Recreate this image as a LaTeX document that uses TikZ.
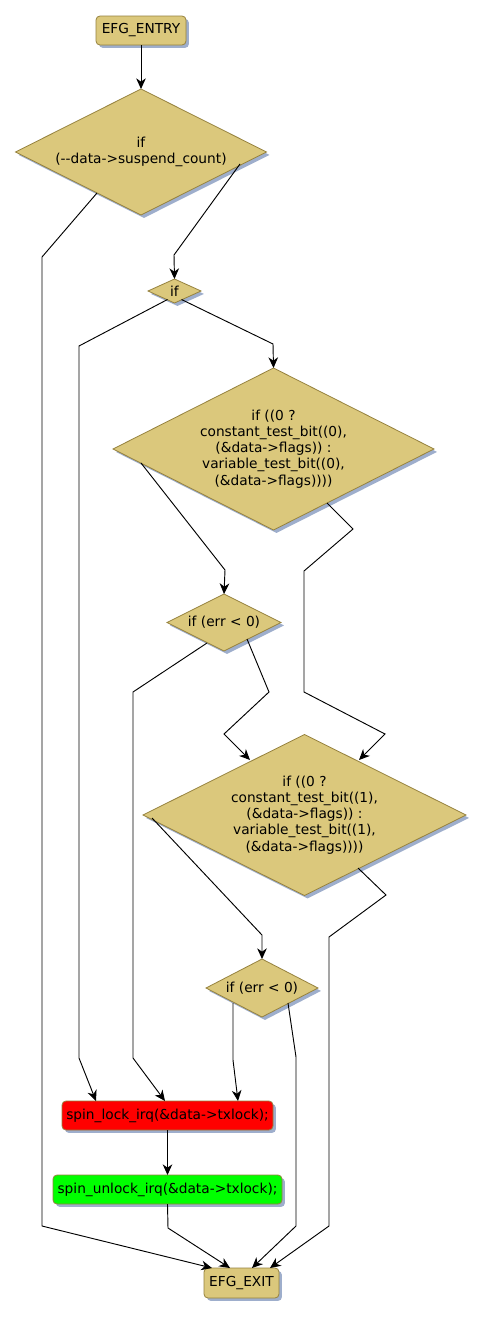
\documentclass[tikz,border=0pt]{standalone}
\usepackage{fontspec}
\setmainfont{DejaVu Sans}
\usetikzlibrary{shapes.geometric,arrows.meta,shadows,calc}
\definecolor{khaki}{RGB}{219,200,124}
\definecolor{khakiline}{RGB}{150,130,62}
\definecolor{shadowc}{RGB}{158,174,204}
\definecolor{redfill}{RGB}{255,0,0}
\definecolor{greenfill}{RGB}{0,255,0}
\tikzset{
  basefont/.style={font=\fontsize{10.3pt}{12.15pt}\selectfont},
  shad/.style={drop shadow={shadow xshift=2.2pt,shadow yshift=-2.2pt,fill=shadowc,opacity=1}},
  cond/.style={basefont,shape=diamond,draw=khakiline,fill=khaki,line width=0.6pt,inner sep=0pt,outer sep=0pt,aspect=2,align=center,shad},
  actbox/.style={basefont,shape=rectangle,rounded corners=3pt,draw=khakiline,line width=0.6pt,inner sep=0pt,outer sep=0pt,align=center,shad},
  conn/.style={draw,line width=0.7pt,-{Stealth[length=8pt,width=7.2pt,inset=2.5pt]}},
}
\begin{document}
\begin{tikzpicture}[x=0.75pt,y=-0.75pt]
\useasboundingbox[fill=white] (0,0) rectangle (484,1317);

\node[actbox,fill=khaki,minimum width=90*0.75pt,minimum height=29*0.75pt] (entry) at (141,30.5) {EFG\_ENTRY};
\node[cond,minimum width=251*0.75pt,minimum height=126*0.75pt] (d1) at (141,152) {if\\(-\kern0pt-data->suspend\_count)};
\node[cond,minimum width=53*0.75pt,minimum height=24*0.75pt] (sif) at (174.5,291) {if};
\node[cond,minimum width=321*0.75pt,minimum height=162*0.75pt] (d2) at (273.5,449) {if ((0 ?\\constant\_test\_bit((0),\\(\&data->flags)) :\\variable\_test\_bit((0),\\(\&data->flags))))};
\node[cond,minimum width=114*0.75pt,minimum height=57*0.75pt] (da) at (224,622.5) {if (err < 0)};
\node[cond,minimum width=323*0.75pt,minimum height=161*0.75pt] (d3) at (304.5,815) {if ((0 ?\\constant\_test\_bit((1),\\(\&data->flags)) :\\variable\_test\_bit((1),\\(\&data->flags))))};
\node[cond,minimum width=112*0.75pt,minimum height=58*0.75pt] (db) at (262,988) {if (err < 0)};
\node[actbox,fill=redfill,minimum width=211*0.75pt,minimum height=29*0.75pt] (lock) at (167.5,1115.5) {spin\_lock\_irq(\&data->txlock);};
\node[actbox,fill=greenfill,minimum width=229*0.75pt,minimum height=29*0.75pt] (unlock) at (167.5,1189.5) {spin\_unlock\_irq(\&data->txlock);};
\node[actbox,fill=khaki,minimum width=75*0.75pt,minimum height=30*0.75pt] (exit) at (241.5,1283) {EFG\_EXIT};

\coordinate (a1) at (42,257);
\coordinate (a2) at (42,1226);
\coordinate (b1) at (174,255);
\coordinate (c1) at (79,346);
\coordinate (c2) at (79,1058);
\coordinate (e1) at (273,344);
\coordinate (f1) at (225,570);
\coordinate (g1) at (353,529);
\coordinate (g2) at (304,571);
\coordinate (g3) at (304,692);
\coordinate (g4) at (385,734);
\coordinate (h1) at (133,692);
\coordinate (h2) at (133,1058);
\coordinate (i1) at (269,692);
\coordinate (i2) at (224,734);
\coordinate (j1) at (262,935);
\coordinate (k1) at (386,895);
\coordinate (k2) at (329,937);
\coordinate (k3) at (329,1226);
\coordinate (l1) at (233,1060);
\coordinate (m1) at (296,1057);
\coordinate (m2) at (296,1226);
\coordinate (n1) at (168,1228);

\path[conn] (entry.south) -- (d1.north);
\path[conn] ($(d1)+(-44,41)$) -- (a1) -- (a2) -- ($(exit)+(-29.5,-15)$);
\path[conn] ($(d1)+(99,12)$) -- (b1) -- (sif.north);
\path[conn] ($(sif)+(-7,8.5)$) -- (c1) -- (c2) -- ($(lock)+(-71.5,-14.5)$);
\path[conn] ($(sif)+(7,8.5)$) -- (e1) -- (d2.north);
\path[conn] ($(d2)+(-132.5,14)$) -- (f1) -- (da.north);
\path[conn] ($(d2)+(53.5,54)$) -- (g1) -- (g2) -- (g3) -- (g4) -- ($(d3)+(54.5,-55)$);
\path[conn] ($(da)+(-17,20.5)$) -- (h1) -- (h2) -- ($(lock)+(-2.5,-14.5)$);
\path[conn] ($(da)+(23,16.5)$) -- (i1) -- (i2) -- ($(d3)+(-54.5,-55)$);
\path[conn] ($(d3)+(-152.5,3)$) -- (j1) -- (db.north);
\path[conn] ($(d3)+(53.5,53)$) -- (k1) -- (k2) -- (k3) -- ($(exit)+(28.5,-15)$);
\path[conn] ($(db)+(-29,15)$) -- (l1) -- ($(lock)+(70.5,-14.5)$);
\path[conn] ($(db)+(26,15)$) -- (m1) -- (m2) -- ($(exit)+(10.5,-15)$);
\path[conn] (lock.south) -- (unlock.north);
\path[conn] (unlock.south) -- (n1) -- ($(exit)+(-11.5,-15)$);
\end{tikzpicture}
\end{document}
